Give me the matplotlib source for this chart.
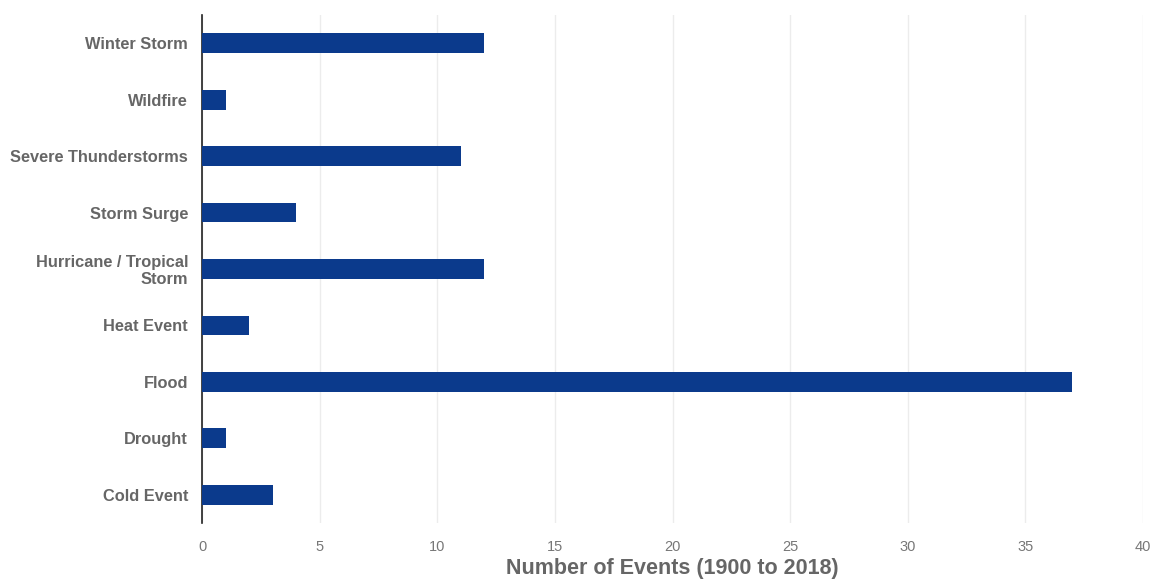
import numpy as np
import matplotlib.pyplot as plt

# categorias de cima para baixo, como aparecem no grafico
categorias = ['Winter Storm', 'Wildfire', 'Severe Thunderstorms', 'Storm Surge',
              'Hurricane / Tropical\nStorm', 'Heat Event', 'Flood', 'Drought', 'Cold Event']
eventos = [12, 1, 11, 4, 12, 2, 37, 1, 3]
ticks_x = [0, 5, 10, 15, 20, 25, 30, 35, 40]

plt.rcParams['font.family'] = ['Liberation Sans', 'DejaVu Sans']

fig = plt.figure(figsize=(11.56, 5.81), dpi=100)
ax = fig.add_axes([202 / 1156, 58 / 581, (1143 - 202) / 1156, (523 - 15) / 581])

y = np.arange(len(categorias))
ax.barh(y, eventos, height=0.35, color='#0b3a8c', zorder=3)

ax.set_ylim(len(categorias) - 0.5, -0.5)
ax.set_xlim(0, 40)
ax.set_xticks(ticks_x)
ax.set_yticks(y)
ax.set_yticklabels(categorias, fontsize=11.8, color='#666666', fontweight='bold',
                   linespacing=1.15)
ax.tick_params(axis='x', labelsize=10.5, colors='#777777', length=0, pad=12)
ax.tick_params(axis='y', length=0, pad=10)

ax.grid(axis='x', color='#ececec', linewidth=1, zorder=0)
for s in ['top', 'right', 'bottom']:
    ax.spines[s].set_visible(False)
ax.spines['left'].set_color('#222222')
ax.spines['left'].set_linewidth(1.2)

ax.set_xlabel('Number of Events (1900 to 2018)', fontsize=15.5, color='#666666',
              fontweight='bold', labelpad=3)

fig.savefig('out.png', dpi=100)
